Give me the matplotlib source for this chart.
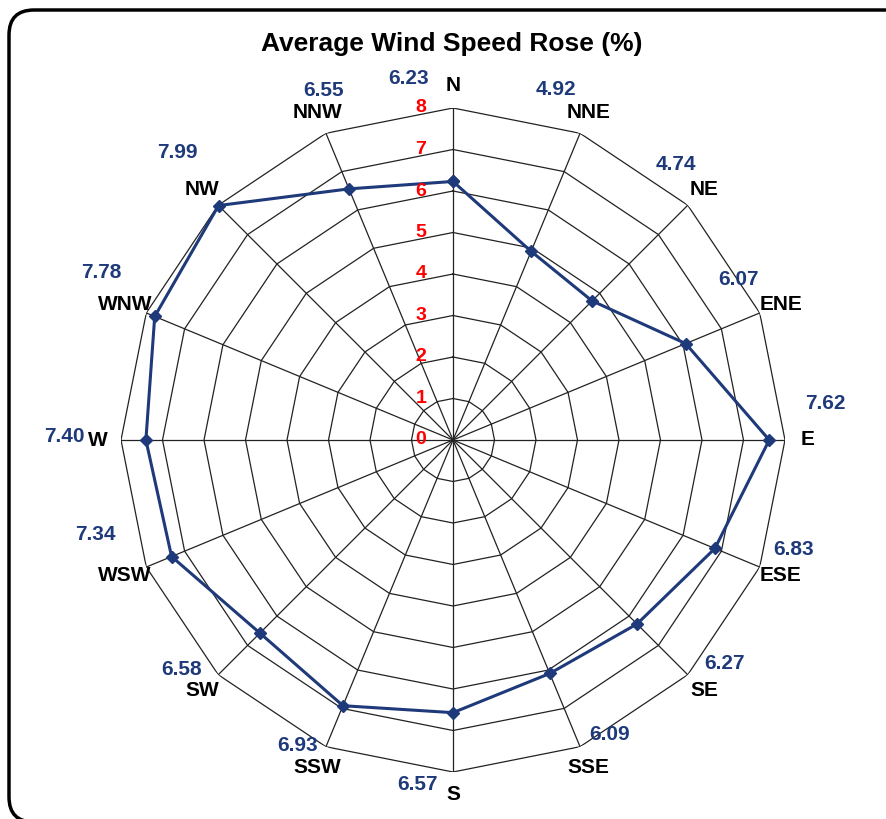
import numpy as np
import matplotlib.pyplot as plt
from matplotlib.patches import FancyBboxPatch

# wind directions and average speeds
directions = ['N', 'NNE', 'NE', 'ENE', 'E', 'ESE', 'SE', 'SSE',
              'S', 'SSW', 'SW', 'WSW', 'W', 'WNW', 'NW', 'NNW']
speeds = [6.23, 4.92, 4.74, 6.07, 7.62, 6.83, 6.27, 6.09,
          6.57, 6.93, 6.58, 7.34, 7.40, 7.78, 7.99, 6.55]
rings = [0, 1, 2, 3, 4, 5, 6, 7, 8]

# pixel offsets of the value labels from the direction labels
label_dx = [-44, -33, -28, -42, 18, 13, 21, 21, -35, -20, -21, -30, -34, -24, -25, 6]
label_dy = [7, 23, 25, 25, 36, 26, 27, 33, 10, 22, 21, 41, 3, 32, 37, 22]

blue = '#1f3a7a'
plt.rcParams['font.family'] = ['Liberation Sans', 'DejaVu Sans']

fig = plt.figure(figsize=(8.86, 8.19), dpi=100)
ax = fig.add_axes([121 / 886, 47 / 819, 664 / 886, 664 / 819], projection='polar')
ax.set_theta_zero_location('N')
ax.set_theta_direction(-1)
ax.set_ylim(0, 8)
ax.grid(False)
ax.set_xticks([])
ax.set_yticks([])
ax.spines['polar'].set_visible(False)

theta = np.deg2rad(np.arange(len(directions)) * 360 / len(directions))
closed = np.append(theta, theta[0])

# polygon grid
for r in rings[1:]:
    ax.plot(closed, [r] * len(closed), color='#222222', lw=0.9, zorder=1)
for t in theta:
    ax.plot([t, t], [0, 8], color='#222222', lw=0.9, zorder=1)

# data series
ax.plot(closed, np.append(speeds, speeds[0]), color=blue, lw=2.2, marker='D',
        markersize=6.5, zorder=3, clip_on=False)

# radial tick labels
for r in rings:
    ax.annotate(str(r), (0, r), xytext=(-32, 0), textcoords='offset pixels',
                ha='center', va='center', color='red', fontsize=14,
                fontweight='bold', annotation_clip=False)

# direction and value labels
for i, (d, v) in enumerate(zip(directions, speeds)):
    ax.text(theta[i], 8.55, d, ha='center', va='center', fontsize=15,
            fontweight='bold', color='black', clip_on=False)
    ax.annotate(f'{v:.2f}', (theta[i], 8.55), xytext=(label_dx[i], label_dy[i]),
                textcoords='offset pixels', ha='center', va='center',
                fontsize=15, fontweight='bold', color=blue, annotation_clip=False)

fig.text(452 / 886, 1 - 44 / 819, 'Average Wind Speed Rose (%)', ha='center',
         va='center', fontsize=19, fontweight='bold')

# rounded frame, in inches so the corners stay round; right side runs off the image
frame = FancyBboxPatch((0.09, -0.03), 9.06, 8.12,
                       boxstyle='round,pad=0,rounding_size=0.25',
                       transform=fig.dpi_scale_trans, fill=False, lw=2.5,
                       edgecolor='black', clip_on=False)
fig.patches.append(frame)

fig.savefig('out.png', dpi=100)
